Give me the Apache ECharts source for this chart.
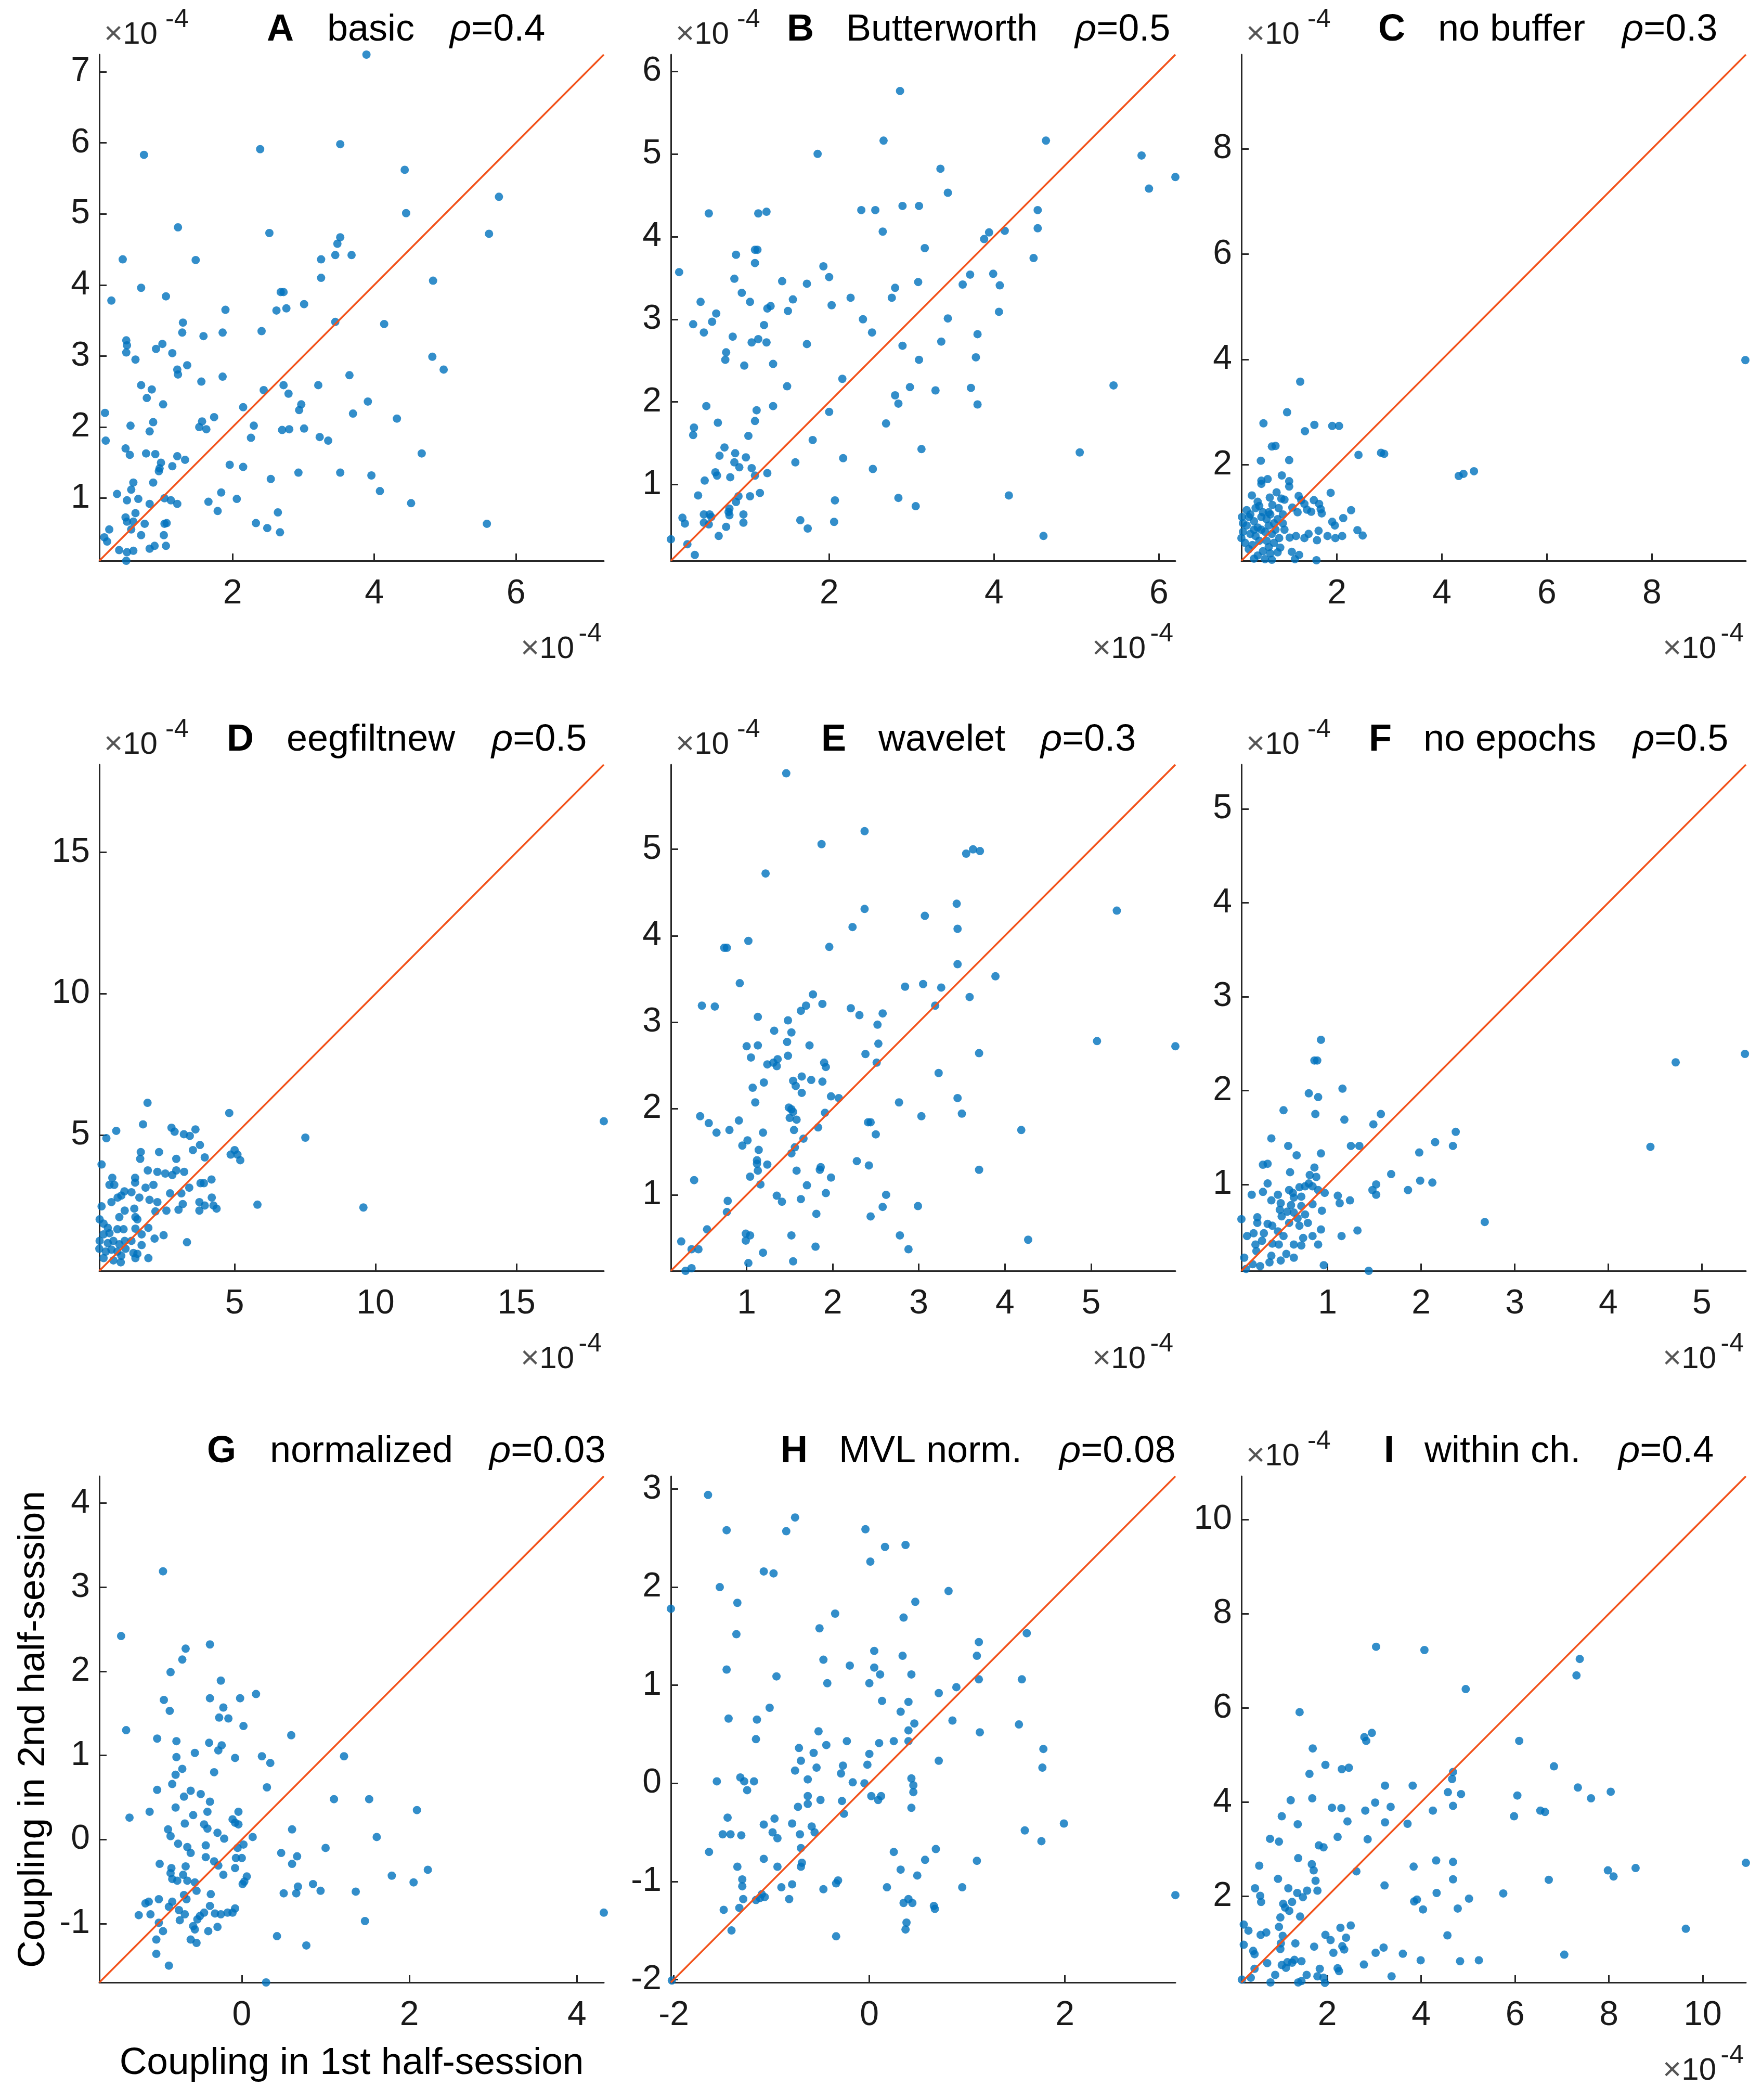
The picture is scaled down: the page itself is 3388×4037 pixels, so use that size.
<!DOCTYPE html>
<html>
<head>
<meta charset="utf-8">
<script src="https://cdn.jsdelivr.net/npm/echarts@6/dist/echarts.min.js"></script>
<style>
html,body{margin:0;padding:0;background:#fff;}
#chart{width:3388px;height:4037px;}
</style>
</head>
<body>
<div id="chart"></div>
<script>
// ---------- panel labels ----------
const panelLetters = ['A','B','C','D','E','F','G','H','I'];
const panelNames = ['basic','Butterworth','no buffer','eegfiltnew','wavelet','no epochs','normalized','MVL norm.','within ch.'];
const panelRho = ['0.4','0.5','0.3','0.5','0.3','0.5','0.03','0.08','0.4'];

// axis limits (same for x and y in each panel)
const limA = [0.12, 7.24];
const limB = [0.08, 6.2];
const limC = [0.18, 9.79];
const limD = [0.2, 18.1];
const limE = [0.12, 5.98];
const limF = [0.08, 5.47];
const limG = [-1.70, 4.32];
const limH = [-2.03, 3.13];
const limI = [0.17, 10.92];

// tick values
const xTicksA = [2,4,6], yTicksA = [1,2,3,4,5,6,7];
const xTicksB = [2,4,6], yTicksB = [1,2,3,4,5,6];
const xTicksC = [2,4,6,8], yTicksC = [2,4,6,8];
const xTicksD = [5,10,15], yTicksD = [5,10,15];
const xTicksE = [1,2,3,4,5], yTicksE = [1,2,3,4,5];
const xTicksF = [1,2,3,4,5], yTicksF = [1,2,3,4,5];
const xTicksG = [0,2,4], yTicksG = [-1,0,1,2,3,4];
const xTicksH = [-2,0,2], yTicksH = [-2,-1,0,1,2,3];
const xTicksI = [2,4,6,8,10], yTicksI = [2,4,6,8,10];

// ---------- data: [1st half, 2nd half] ----------
const dataA = [[3.89,7.24],[0.75,5.83],[2.39,5.91],[3.52,5.98],[4.43,5.62],[4.45,5.01],[5.76,5.24],[5.62,4.72],[1.23,4.81],[2.52,4.73],[3.52,4.67],[3.48,4.58],[3.45,4.42],[3.68,4.42],[3.25,4.36],[0.45,4.36],[1.48,4.35],[3.25,4.10],[4.83,4.06],[0.71,3.96],[0.29,3.78],[1.06,3.84],[2.68,3.90],[2.72,3.90],[2.76,3.67],[2.62,3.64],[3.01,3.73],[1.90,3.65],[1.30,3.47],[1.29,3.33],[1.86,3.33],[2.41,3.35],[3.45,3.48],[4.14,3.45],[1.59,3.28],[0.50,3.22],[0.51,3.15],[0.50,3.05],[1.01,3.17],[0.92,3.10],[1.15,3.04],[0.63,2.95],[1.36,2.87],[1.22,2.81],[1.23,2.74],[1.86,2.71],[3.65,2.73],[4.82,2.99],[4.98,2.81],[1.56,2.64],[0.71,2.59],[0.86,2.53],[0.79,2.41],[1.02,2.32],[2.44,2.52],[2.72,2.59],[2.79,2.47],[3.21,2.59],[2.97,2.32],[2.94,2.24],[3.91,2.36],[2.15,2.28],[0.20,2.20],[3.70,2.19],[4.32,2.12],[1.74,2.14],[0.88,2.07],[0.56,2.02],[1.57,2.08],[1.53,2.00],[1.63,1.97],[2.30,2.02],[2.70,1.96],[2.80,1.97],[3.01,1.98],[0.83,1.94],[0.21,1.81],[2.26,1.85],[3.23,1.86],[3.35,1.81],[0.49,1.70],[0.55,1.61],[0.78,1.63],[0.91,1.62],[4.67,1.63],[1.22,1.59],[1.33,1.54],[0.99,1.50],[0.97,1.42],[0.96,1.38],[1.15,1.45],[1.96,1.47],[2.15,1.44],[2.93,1.36],[3.52,1.36],[3.96,1.32],[2.54,1.27],[0.88,1.22],[0.60,1.22],[0.57,1.12],[0.37,1.06],[1.84,1.08],[4.08,1.10],[0.51,0.97],[0.67,0.99],[1.04,1.00],[1.13,0.97],[1.22,0.92],[0.83,0.92],[2.06,0.99],[1.66,0.95],[4.52,0.93],[1.79,0.82],[2.64,0.80],[0.63,0.79],[0.49,0.73],[0.51,0.67],[0.60,0.67],[1.07,0.65],[1.04,0.64],[0.76,0.64],[2.33,0.65],[5.59,0.64],[2.49,0.58],[0.57,0.56],[0.26,0.56],[2.67,0.52],[0.19,0.45],[0.23,0.39],[0.71,0.48],[1.03,0.48],[0.90,0.33],[0.83,0.29],[1.06,0.33],[0.40,0.27],[0.60,0.26],[0.51,0.24],[0.50,0.12]];

const dataB = [[2.86,5.76],[2.66,5.16],[4.63,5.16],[1.86,5.00],[5.79,4.98],[5.88,4.58],[6.20,4.72],[3.35,4.82],[3.44,4.53],[2.39,4.32],[2.56,4.32],[2.89,4.37],[3.09,4.37],[4.53,4.32],[4.53,4.10],[0.54,4.28],[1.14,4.28],[1.24,4.30],[2.65,4.06],[4.13,4.07],[3.94,4.05],[3.88,3.97],[3.16,3.86],[1.10,3.84],[1.13,3.84],[0.87,3.78],[0.18,3.57],[1.93,3.64],[2.00,3.51],[4.48,3.74],[3.71,3.54],[3.99,3.55],[3.62,3.42],[4.07,3.41],[3.08,3.45],[1.10,3.68],[0.85,3.49],[1.43,3.46],[1.73,3.43],[2.80,3.38],[2.76,3.26],[2.26,3.26],[0.94,3.32],[1.56,3.24],[1.04,3.21],[0.44,3.21],[2.03,3.17],[1.25,3.13],[1.29,3.16],[1.50,3.10],[4.06,3.09],[0.63,3.07],[0.58,2.97],[0.35,2.94],[1.21,2.93],[2.41,3.00],[3.44,3.01],[0.48,2.84],[2.52,2.84],[3.80,2.82],[0.83,2.79],[1.06,2.72],[1.14,2.76],[1.24,2.72],[1.73,2.70],[2.89,2.68],[3.36,2.73],[0.75,2.60],[0.74,2.51],[3.78,2.54],[0.97,2.44],[1.32,2.46],[3.09,2.51],[1.49,2.19],[2.16,2.28],[2.98,2.18],[3.29,2.14],[3.72,2.17],[5.45,2.20],[2.80,2.08],[2.84,1.98],[3.80,1.97],[0.51,1.95],[1.32,1.95],[1.12,1.90],[2.00,1.88],[1.10,1.77],[0.65,1.75],[2.69,1.74],[0.36,1.69],[0.35,1.60],[1.02,1.59],[1.80,1.54],[0.73,1.45],[3.12,1.43],[5.04,1.39],[0.86,1.38],[0.67,1.35],[0.99,1.33],[2.17,1.32],[0.85,1.27],[1.59,1.27],[0.91,1.21],[1.06,1.20],[2.53,1.19],[0.62,1.15],[0.64,1.11],[1.25,1.14],[0.80,1.09],[1.10,1.11],[0.49,1.05],[1.16,0.90],[0.41,0.87],[0.90,0.86],[1.04,0.86],[4.18,0.87],[2.84,0.84],[2.07,0.81],[0.87,0.79],[3.05,0.74],[0.79,0.71],[0.78,0.67],[0.48,0.64],[0.55,0.64],[0.96,0.64],[0.22,0.60],[0.57,0.61],[0.79,0.63],[1.65,0.57],[2.06,0.55],[0.25,0.53],[0.48,0.54],[0.54,0.52],[0.96,0.54],[0.75,0.49],[1.74,0.47],[0.66,0.38],[4.60,0.38],[0.08,0.34],[0.28,0.28],[0.37,0.15]];

const dataC = [[9.78,3.99],[1.30,3.58],[0.60,2.79],[1.05,3.00],[1.39,2.64],[1.57,2.76],[1.91,2.74],[2.04,2.74],[0.76,2.35],[0.83,2.36],[2.41,2.19],[2.84,2.23],[2.90,2.21],[0.55,2.08],[1.09,2.09],[4.32,1.79],[4.41,1.83],[4.61,1.88],[0.95,1.80],[0.56,1.70],[0.68,1.73],[0.56,1.64],[1.09,1.69],[1.09,1.59],[1.88,1.47],[0.38,1.42],[0.85,1.48],[0.72,1.38],[0.94,1.36],[1.27,1.41],[1.32,1.33],[1.00,1.34],[1.38,1.26],[1.56,1.33],[1.66,1.26],[1.69,1.16],[1.51,1.11],[2.27,1.14],[1.43,1.15],[1.15,1.19],[0.89,1.18],[0.77,1.24],[1.71,1.08],[1.25,1.10],[2.12,0.99],[1.91,0.92],[1.96,0.85],[2.39,0.76],[2.49,0.66],[2.10,0.65],[1.97,0.61],[1.82,0.65],[1.65,0.75],[1.46,0.69],[1.38,0.61],[1.22,0.65],[1.10,0.62],[1.62,0.57],[1.14,0.35],[1.28,0.29],[1.20,0.21],[1.61,0.19],[0.19,1.01],[0.28,1.14],[0.35,1.06],[0.45,1.18],[0.52,1.22],[0.59,1.10],[0.66,0.97],[0.42,0.93],[0.28,0.85],[0.21,0.73],[0.35,0.69],[0.49,0.81],[0.63,0.73],[0.70,0.85],[0.80,0.89],[0.87,0.97],[0.97,0.89],[0.90,0.61],[0.80,0.52],[0.70,0.44],[0.59,0.36],[0.49,0.28],[0.42,0.22],[0.63,0.21],[0.73,0.32],[0.87,0.34],[0.25,0.52],[0.39,0.48],[0.52,0.56],[0.32,0.40],[0.45,0.65],[0.21,0.89],[0.56,1.01],[0.73,1.06],[0.49,1.30],[0.70,1.10],[0.76,0.69],[0.56,0.77],[0.83,0.77],[0.66,0.56],[0.42,0.77],[0.32,1.01],[0.18,0.61],[0.97,1.06],[1.00,0.77],[0.92,0.43],[0.76,0.20]];

const dataD = [[18.1,5.49],[7.51,4.91],[9.57,2.44],[5.81,2.54],[4.81,5.78],[1.91,6.14],[1.75,5.38],[0.80,5.15],[0.45,4.89],[2.76,5.26],[2.87,5.12],[3.20,5.03],[3.41,4.97],[3.61,5.20],[3.77,4.65],[3.52,4.47],[1.67,4.40],[2.32,4.40],[1.65,4.16],[2.93,4.16],[3.94,4.21],[4.86,4.31],[5.00,4.47],[5.10,4.31],[5.20,4.11],[0.28,3.96],[1.92,3.75],[2.26,3.70],[2.54,3.64],[2.79,3.59],[2.93,3.75],[3.21,3.70],[0.66,3.49],[1.47,3.49],[1.47,3.32],[0.73,3.24],[0.56,3.24],[1.09,3.01],[2.12,3.24],[1.84,3.14],[3.79,3.30],[3.91,3.30],[4.18,3.43],[3.39,3.14],[2.71,2.94],[3.11,2.94],[1.34,2.98],[0.85,2.79],[0.98,2.86],[1.62,2.79],[1.98,2.71],[2.26,2.63],[4.19,2.79],[3.75,2.63],[3.94,2.51],[4.25,2.51],[4.36,2.40],[3.75,2.33],[3.16,2.56],[3.01,2.36],[2.58,2.33],[2.19,2.30],[1.44,2.40],[1.10,2.33],[0.63,2.63],[0.28,2.48],[0.91,2.10],[1.48,2.10],[1.55,2.02],[0.21,2.02],[0.35,1.87],[0.50,1.72],[0.84,1.67],[1.06,1.67],[1.48,1.69],[1.94,1.72],[1.70,1.49],[2.48,1.46],[2.16,1.34],[3.31,1.21],[0.35,1.49],[0.56,1.53],[0.21,1.26],[0.50,1.18],[0.70,1.26],[0.91,1.14],[1.10,1.26],[1.34,1.26],[0.20,0.98],[0.43,0.88],[0.63,0.95],[0.84,0.88],[0.98,0.73],[1.41,0.83],[1.55,0.80],[0.35,0.65],[0.70,0.57],[0.96,0.50],[1.48,0.65],[1.94,0.65],[1.13,0.98],[1.70,1.11]];

const dataE = [[1.46,5.88],[2.37,5.21],[1.87,5.06],[3.55,4.95],[3.63,5.00],[3.71,4.98],[1.22,4.72],[3.44,4.37],[2.37,4.31],[5.30,4.29],[3.07,4.23],[2.23,4.10],[3.45,4.08],[1.02,3.94],[0.74,3.86],[0.77,3.86],[1.96,3.87],[3.45,3.67],[3.89,3.53],[0.92,3.45],[2.84,3.41],[3.05,3.44],[3.26,3.40],[1.77,3.32],[3.59,3.29],[0.48,3.19],[0.63,3.18],[1.69,3.19],[1.88,3.21],[1.63,3.13],[2.21,3.16],[2.31,3.08],[2.58,3.10],[3.19,3.19],[1.13,3.06],[1.48,3.02],[2.52,2.97],[1.32,2.90],[1.52,2.88],[1.47,2.77],[1.00,2.72],[1.13,2.73],[1.73,2.73],[2.53,2.75],[2.38,2.63],[3.70,2.64],[1.05,2.59],[1.48,2.61],[1.36,2.57],[1.31,2.53],[1.24,2.51],[1.35,2.49],[1.90,2.53],[1.92,2.48],[2.51,2.53],[3.23,2.41],[1.64,2.37],[1.75,2.33],[1.54,2.32],[1.88,2.31],[1.07,2.24],[1.20,2.30],[1.57,2.26],[1.64,2.18],[1.98,2.14],[2.07,2.12],[3.45,2.12],[1.10,2.07],[2.77,2.07],[1.49,2.01],[1.52,1.99],[1.54,1.96],[1.91,1.95],[3.50,1.94],[0.46,1.91],[3.03,1.91],[1.50,1.89],[1.58,1.87],[0.91,1.86],[0.56,1.83],[2.41,1.84],[2.44,1.84],[1.83,1.78],[4.19,1.75],[0.80,1.75],[1.55,1.75],[0.65,1.72],[1.19,1.72],[2.50,1.70],[1.66,1.65],[1.01,1.63],[0.95,1.57],[1.56,1.55],[1.14,1.52],[1.52,1.48],[2.28,1.39],[1.12,1.40],[1.24,1.35],[1.12,1.36],[2.42,1.34],[1.86,1.32],[1.85,1.29],[1.58,1.28],[1.13,1.28],[3.70,1.29],[1.04,1.21],[1.98,1.20],[0.39,1.17],[1.16,1.12],[1.70,1.11],[1.92,1.02],[1.35,0.99],[1.41,0.92],[1.63,0.95],[2.62,1.00],[0.78,0.93],[2.99,0.87],[2.58,0.86],[0.77,0.80],[1.81,0.78],[2.44,0.75],[0.54,0.60],[2.78,0.53],[1.52,0.53],[0.99,0.55],[1.04,0.53],[0.99,0.47],[4.27,0.48],[0.24,0.46],[0.44,0.37],[0.36,0.37],[2.88,0.37],[1.80,0.40],[1.19,0.33],[1.02,0.21],[1.54,0.23],[0.36,0.15],[0.29,0.12],[5.07,2.78],[5.98,2.72]];

const dataF = [[5.46,2.39],[4.72,2.30],[4.45,1.40],[2.68,0.60],[0.93,2.54],[0.86,2.32],[0.89,2.32],[0.80,1.97],[0.90,1.93],[1.16,2.02],[0.53,1.79],[0.87,1.75],[1.18,1.69],[1.57,1.75],[1.49,1.64],[2.37,1.56],[2.15,1.45],[2.34,1.41],[1.98,1.34],[1.25,1.41],[1.34,1.41],[0.40,1.49],[0.58,1.41],[0.67,1.31],[0.93,1.33],[0.31,1.21],[0.36,1.22],[0.86,1.18],[0.60,1.13],[1.68,1.11],[0.81,1.10],[0.88,1.08],[0.36,1.01],[1.99,1.04],[2.12,1.02],[1.52,1.00],[0.31,0.92],[0.19,0.89],[0.47,0.89],[0.59,0.94],[0.63,0.91],[0.70,0.97],[0.76,0.98],[0.80,1.01],[0.84,0.98],[0.90,0.94],[1.48,0.94],[1.86,0.94],[0.97,0.91],[1.11,0.88],[1.52,0.89],[0.72,0.87],[0.64,0.86],[0.40,0.83],[0.50,0.80],[1.13,0.80],[1.24,0.83],[0.61,0.78],[0.72,0.77],[0.84,0.79],[0.49,0.73],[0.57,0.71],[0.64,0.70],[0.94,0.72],[0.51,0.66],[0.68,0.64],[0.76,0.68],[0.08,0.63],[0.25,0.65],[0.25,0.59],[0.36,0.58],[0.41,0.56],[0.59,0.59],[0.70,0.56],[0.79,0.59],[0.14,0.45],[0.21,0.48],[0.32,0.48],[0.47,0.50],[0.53,0.45],[0.74,0.43],[0.84,0.45],[0.93,0.52],[1.15,0.45],[1.32,0.51],[0.23,0.36],[0.30,0.40],[0.41,0.37],[0.48,0.36],[0.64,0.36],[0.72,0.35],[0.90,0.36],[0.24,0.29],[0.40,0.24],[0.56,0.26],[0.64,0.22],[0.11,0.22],[0.50,0.19],[0.20,0.15],[0.28,0.13],[0.13,0.10],[0.96,0.14],[1.44,0.08],[0.38,0.17]];

const dataG = [[-0.94,3.19],[-1.44,2.42],[-0.38,2.32],[-0.67,2.27],[-0.71,2.14],[-0.85,1.99],[-0.25,1.89],[0.17,1.73],[-0.38,1.68],[-0.02,1.68],[-0.93,1.66],[-0.22,1.57],[-0.86,1.53],[-0.27,1.45],[-0.16,1.44],[0.02,1.35],[-1.38,1.30],[0.59,1.24],[-1.01,1.20],[-0.78,1.17],[-0.39,1.15],[-0.24,1.12],[-0.28,1.06],[-0.56,1.03],[-0.78,0.98],[-0.08,0.97],[0.24,0.99],[1.22,0.99],[0.34,0.91],[-0.71,0.84],[-0.33,0.80],[-0.79,0.77],[-0.83,0.66],[0.30,0.62],[-1.01,0.59],[-0.61,0.58],[-0.49,0.54],[-0.69,0.51],[1.10,0.48],[1.52,0.48],[-0.38,0.45],[-0.79,0.38],[2.09,0.35],[-1.10,0.33],[-0.41,0.33],[-0.04,0.33],[-0.58,0.29],[-1.34,0.26],[-0.11,0.24],[-0.08,0.20],[-0.04,0.18],[-0.68,0.19],[-0.45,0.18],[-0.88,0.12],[-0.41,0.13],[0.60,0.12],[-0.29,0.08],[-0.85,0.04],[0.13,0.03],[1.61,0.03],[-0.21,0.01],[-0.76,-0.05],[-0.43,-0.07],[0.02,-0.06],[-0.65,-0.09],[-0.05,-0.10],[1.00,-0.10],[-0.61,-0.16],[0.47,-0.16],[0.66,-0.20],[-0.43,-0.21],[-0.07,-0.22],[0.00,-0.22],[-0.33,-0.26],[-0.98,-0.29],[0.60,-0.29],[-0.67,-0.32],[-0.28,-0.31],[-0.84,-0.34],[-0.08,-0.34],[2.22,-0.36],[-0.22,-0.42],[-0.85,-0.40],[-0.70,-0.42],[1.79,-0.43],[-0.83,-0.47],[0.06,-0.44],[-0.77,-0.49],[-0.65,-0.49],[-0.56,-0.51],[0.03,-0.50],[2.05,-0.51],[0.01,-0.53],[0.85,-0.53],[0.67,-0.56],[-0.54,-0.61],[0.94,-0.61],[1.36,-0.62],[0.50,-0.64],[0.65,-0.64],[-0.37,-0.65],[-0.69,-0.66],[-0.66,-0.71],[-0.99,-0.71],[-1.11,-0.74],[-0.83,-0.74],[-1.15,-0.76],[-0.38,-0.79],[-0.87,-0.80],[-0.08,-0.82],[-0.75,-0.84],[-0.45,-0.87],[4.32,-0.87],[-1.23,-0.90],[-1.09,-0.89],[-0.68,-0.89],[-0.32,-0.88],[-0.25,-0.89],[-0.17,-0.87],[-0.11,-0.87],[-0.50,-0.91],[-0.53,-0.95],[-0.74,-0.96],[1.47,-0.97],[-0.99,-0.99],[-0.58,-1.03],[-0.29,-1.04],[-0.56,-1.07],[-0.40,-1.09],[-0.94,-1.09],[0.42,-1.15],[-0.61,-1.19],[-1.02,-1.19],[-0.54,-1.23],[0.77,-1.26],[-1.02,-1.36],[-0.87,-1.50],[0.29,-1.70]];

const dataH = [[-1.65,2.94],[-0.76,2.71],[-1.46,2.58],[-0.85,2.57],[-0.04,2.59],[0.37,2.43],[0.16,2.41],[0.01,2.26],[-1.08,2.16],[-0.98,2.14],[-1.53,2.00],[0.81,1.96],[-1.35,1.84],[0.47,1.85],[-2.03,1.78],[-0.35,1.73],[0.35,1.69],[-1.36,1.52],[-0.51,1.58],[1.61,1.53],[1.12,1.44],[1.10,1.30],[0.34,1.30],[0.05,1.35],[-0.47,1.26],[-0.20,1.20],[0.05,1.18],[-1.46,1.16],[0.11,1.11],[0.43,1.11],[-0.95,1.09],[1.12,1.06],[1.56,1.06],[-0.43,1.02],[0.00,1.02],[0.89,0.98],[0.71,0.92],[0.13,0.84],[0.40,0.83],[-1.02,0.77],[0.32,0.73],[-1.44,0.66],[-1.15,0.65],[0.85,0.64],[1.53,0.60],[0.46,0.61],[-0.52,0.53],[0.40,0.54],[1.13,0.52],[0.40,0.43],[-1.16,0.45],[-0.23,0.43],[0.25,0.43],[-0.44,0.39],[0.10,0.41],[-0.72,0.36],[1.78,0.35],[-0.57,0.31],[0.00,0.30],[-0.70,0.23],[0.71,0.23],[-0.02,0.19],[-0.27,0.18],[-0.54,0.16],[-0.76,0.13],[1.77,0.16],[-0.29,0.10],[-0.63,0.04],[-1.32,0.06],[0.43,0.05],[-1.56,0.02],[-1.28,0.02],[-1.18,0.02],[-0.17,0.01],[-0.05,0.00],[0.45,-0.02],[-1.25,-0.07],[0.45,-0.09],[-0.63,-0.13],[0.02,-0.13],[0.12,-0.13],[0.09,-0.17],[-0.50,-0.17],[-0.28,-0.18],[-0.63,-0.21],[-0.73,-0.24],[0.43,-0.25],[-0.26,-0.31],[-1.45,-0.35],[-0.97,-0.36],[-0.79,-0.41],[-1.08,-0.42],[1.99,-0.41],[-0.59,-0.44],[-0.56,-0.50],[-0.99,-0.50],[1.59,-0.48],[-1.50,-0.52],[-1.42,-0.52],[-1.31,-0.53],[-0.71,-0.52],[-0.94,-0.56],[1.76,-0.59],[-0.70,-0.66],[0.68,-0.67],[-1.64,-0.70],[0.25,-0.70],[-1.08,-0.77],[0.57,-0.78],[1.10,-0.79],[-0.69,-0.81],[-0.70,-0.85],[-1.35,-0.85],[-0.94,-0.85],[0.32,-0.88],[0.49,-0.94],[-1.30,-0.98],[-0.32,-0.99],[-0.34,-1.02],[-1.30,-1.05],[-0.79,-1.03],[-0.90,-1.06],[-0.47,-1.08],[0.18,-1.06],[0.95,-1.06],[-1.10,-1.13],[-1.12,-1.17],[-1.07,-1.16],[-1.16,-1.19],[-1.29,-1.18],[-0.82,-1.18],[0.40,-1.18],[0.35,-1.22],[0.44,-1.22],[0.66,-1.25],[0.67,-1.28],[-1.33,-1.27],[-1.49,-1.29],[0.38,-1.42],[0.37,-1.49],[-1.41,-1.50],[-0.34,-1.56],[-2.02,-2.01],[3.13,-1.14]];

const dataI = [[3.04,7.30],[4.07,7.23],[7.38,7.04],[7.31,6.69],[4.95,6.40],[1.41,5.91],[6.09,5.30],[2.95,5.47],[2.79,5.38],[2.83,5.30],[1.69,5.14],[1.96,4.79],[6.83,4.76],[2.46,4.73],[2.31,4.70],[1.62,4.60],[4.68,4.64],[4.66,4.49],[3.23,4.35],[3.82,4.35],[7.34,4.31],[8.04,4.22],[4.57,4.21],[4.85,4.17],[6.05,4.14],[7.62,4.08],[1.22,4.04],[1.68,4.08],[3.02,3.99],[4.68,3.92],[3.35,3.90],[2.10,3.88],[2.30,3.87],[2.81,3.82],[4.25,3.82],[6.54,3.82],[6.64,3.79],[1.03,3.70],[5.98,3.70],[2.43,3.59],[3.23,3.57],[3.71,3.54],[1.37,3.53],[2.22,3.26],[0.78,3.22],[0.97,3.16],[2.86,3.21],[1.82,3.08],[1.92,3.04],[1.38,2.81],[1.67,2.68],[4.32,2.76],[4.68,2.73],[10.92,2.71],[0.55,2.65],[3.84,2.63],[8.57,2.60],[7.98,2.55],[1.71,2.55],[2.62,2.53],[8.10,2.42],[0.95,2.37],[1.75,2.33],[6.72,2.35],[4.68,2.36],[3.22,2.23],[0.46,2.17],[1.17,2.17],[1.57,2.12],[1.79,2.12],[1.36,2.07],[4.33,2.07],[5.75,2.06],[0.57,2.01],[1.48,1.98],[5.02,1.95],[0.59,1.88],[1.25,1.88],[3.85,1.89],[3.91,1.93],[1.06,1.84],[1.10,1.76],[1.19,1.69],[4.04,1.72],[4.78,1.74],[1.00,1.55],[1.42,1.57],[0.22,1.40],[0.97,1.35],[0.32,1.27],[2.28,1.33],[2.50,1.38],[9.64,1.31],[0.58,1.18],[0.70,1.23],[1.05,1.16],[1.96,1.18],[4.56,1.17],[2.40,1.12],[2.07,1.07],[0.22,0.97],[1.01,1.00],[1.32,1.00],[1.00,0.88],[1.72,0.93],[2.32,0.94],[2.36,0.87],[3.20,0.91],[0.42,0.84],[0.45,0.77],[2.13,0.80],[3.03,0.80],[3.61,0.78],[7.05,0.76],[0.72,0.58],[1.03,0.54],[1.15,0.60],[1.30,0.65],[1.25,0.59],[1.45,0.62],[1.12,0.48],[2.78,0.55],[3.99,0.64],[4.83,0.62],[5.23,0.64],[2.22,0.47],[2.25,0.41],[1.84,0.46],[0.45,0.46],[0.89,0.33],[1.56,0.33],[1.79,0.30],[1.92,0.27],[3.37,0.30],[0.18,0.23],[0.37,0.27],[0.79,0.17],[1.38,0.17],[1.45,0.20],[1.95,0.16]];

// ---------- assemble ----------
const allData = [dataA,dataB,dataC,dataD,dataE,dataF,dataG,dataH,dataI];
const allLims = [limA,limB,limC,limD,limE,limF,limG,limH,limI];
const allXTicks = [xTicksA,xTicksB,xTicksC,xTicksD,xTicksE,xTicksF,xTicksG,xTicksH,xTicksI];
const allYTicks = [yTicksA,yTicksB,yTicksC,yTicksD,yTicksE,yTicksF,yTicksG,yTicksH,yTicksI];
const hasExp = [true,true,true,true,true,true,false,false,true];

// layout (pixels)
const colLeft = [191, 1290, 2387];
const rowTop = [105, 1470, 2838];
const PW = 970, PH = 973;
const titleX = [[513,629,865],[1513,1627,2067],[2650,2765,3119],
                [436,551,945],[1579,1689,2001],[2632,2737,3140],
                [398,519,941],[1501,1613,2037],[2661,2739,3112]];

const FONT = '"Liberation Sans", Arial, Helvetica, sans-serif';
const AX = '#262626';
const DOT = '#0072BD';
const DIAG = '#F2521B';
const TICKFS = 66;

const grids = [], xAxes = [], yAxes = [], series = [], graphics = [];
for (let i = 0; i < 9; i++) {
  const r = Math.floor(i / 3), c = i % 3;
  const L = colLeft[c], T = rowTop[r];
  const lim = allLims[i];
  grids.push({left: L, top: T, width: PW, height: PH, containLabel: false});
  const axisCommon = {
    type: 'value', min: lim[0], max: lim[1], gridIndex: i,
    axisLine: {show: true, onZero: false, lineStyle: {color: AX, width: 3}},
    splitLine: {show: false},
  };
  xAxes.push(Object.assign({}, axisCommon, {
    axisTick: {show: true, inside: true, length: 14, lineStyle: {color: AX, width: 3}, customValues: allXTicks[i]},
    axisLabel: {customValues: allXTicks[i], fontSize: TICKFS, fontFamily: FONT, color: '#1a1a1a', margin: 31}
  }));
  yAxes.push(Object.assign({}, axisCommon, {
    axisTick: {show: true, inside: true, length: 14, lineStyle: {color: AX, width: 3}, customValues: allYTicks[i]},
    axisLabel: {customValues: allYTicks[i], fontSize: TICKFS, fontFamily: FONT, color: '#1a1a1a', margin: 18}
  }));
  series.push({
    type: 'scatter', xAxisIndex: i, yAxisIndex: i, data: allData[i],
    symbol: 'circle', symbolSize: 16, itemStyle: {color: DOT}, clip: false, silent: true, z: 2
  });
  series.push({
    type: 'line', xAxisIndex: i, yAxisIndex: i,
    data: [[lim[0], lim[0]], [lim[1], lim[1]]],
    showSymbol: false, lineStyle: {color: DIAG, width: 3.5}, silent: true, z: 3, animation: false
  });

  // titles
  const ty = T - 47;
  const tx = titleX[i];
  graphics.push({type: 'text', x: tx[0], y: ty, style: {text: panelLetters[i], font: 'bold 72px ' + FONT, fill: '#000', textAlign: 'left', textVerticalAlign: 'middle'}});
  graphics.push({type: 'text', x: tx[1], y: ty, style: {text: panelNames[i], font: '72px ' + FONT, fill: '#000', textAlign: 'left', textVerticalAlign: 'middle'}});
  graphics.push({type: 'text', x: tx[2], y: ty, style: {
    text: '{i|ρ}=' + panelRho[i], font: '72px ' + FONT, fill: '#000', textAlign: 'left', textVerticalAlign: 'middle',
    rich: {i: {fontStyle: 'italic', fontSize: 72, fontFamily: FONT, fill: '#000'}}
  }});

  if (hasExp[i]) {
    // y exponent (top-left)
    graphics.push({type: 'text', x: L + 9, y: T - 38, style: {text: '{m|×}10', font: '60px ' + FONT, fill: '#1a1a1a', textAlign: 'left', textVerticalAlign: 'middle',
      rich: {m: {fontSize: 62, fontFamily: FONT, fill: '#555'}}}});
    graphics.push({type: 'text', x: L + 127, y: T - 67, style: {text: '-4', font: '50px ' + FONT, fill: '#1a1a1a', textAlign: 'left', textVerticalAlign: 'middle'}});
    // x exponent (bottom-right)
    const B = T + PH, R = L + PW;
    graphics.push({type: 'text', x: R - 57, y: B + 170, style: {text: '{m|×}10', font: '60px ' + FONT, fill: '#1a1a1a', textAlign: 'right', textVerticalAlign: 'middle',
      rich: {m: {fontSize: 62, fontFamily: FONT, fill: '#555'}}}});
    graphics.push({type: 'text', x: R - 4, y: B + 141, style: {text: '-4', font: '50px ' + FONT, fill: '#1a1a1a', textAlign: 'right', textVerticalAlign: 'middle'}});
  }
}

// axis names (panel G)
graphics.push({type: 'text', x: 65, y: rowTop[2] + PH / 2, rotation: Math.PI / 2,
  style: {text: 'Coupling in 2nd half-session', font: '73px ' + FONT, fill: '#000', textAlign: 'center', textVerticalAlign: 'middle'}});
graphics.push({type: 'text', x: colLeft[0] + PW / 2, y: 3967,
  style: {text: 'Coupling in 1st half-session', font: '73px ' + FONT, fill: '#000', textAlign: 'center', textVerticalAlign: 'middle'}});

const chart = echarts.init(document.getElementById('chart'), null, {renderer: 'canvas'});
chart.setOption({
  backgroundColor: '#ffffff',
  animation: false,
  grid: grids,
  xAxis: xAxes,
  yAxis: yAxes,
  series: series,
  graphic: graphics
});
</script>
</body>
</html>
